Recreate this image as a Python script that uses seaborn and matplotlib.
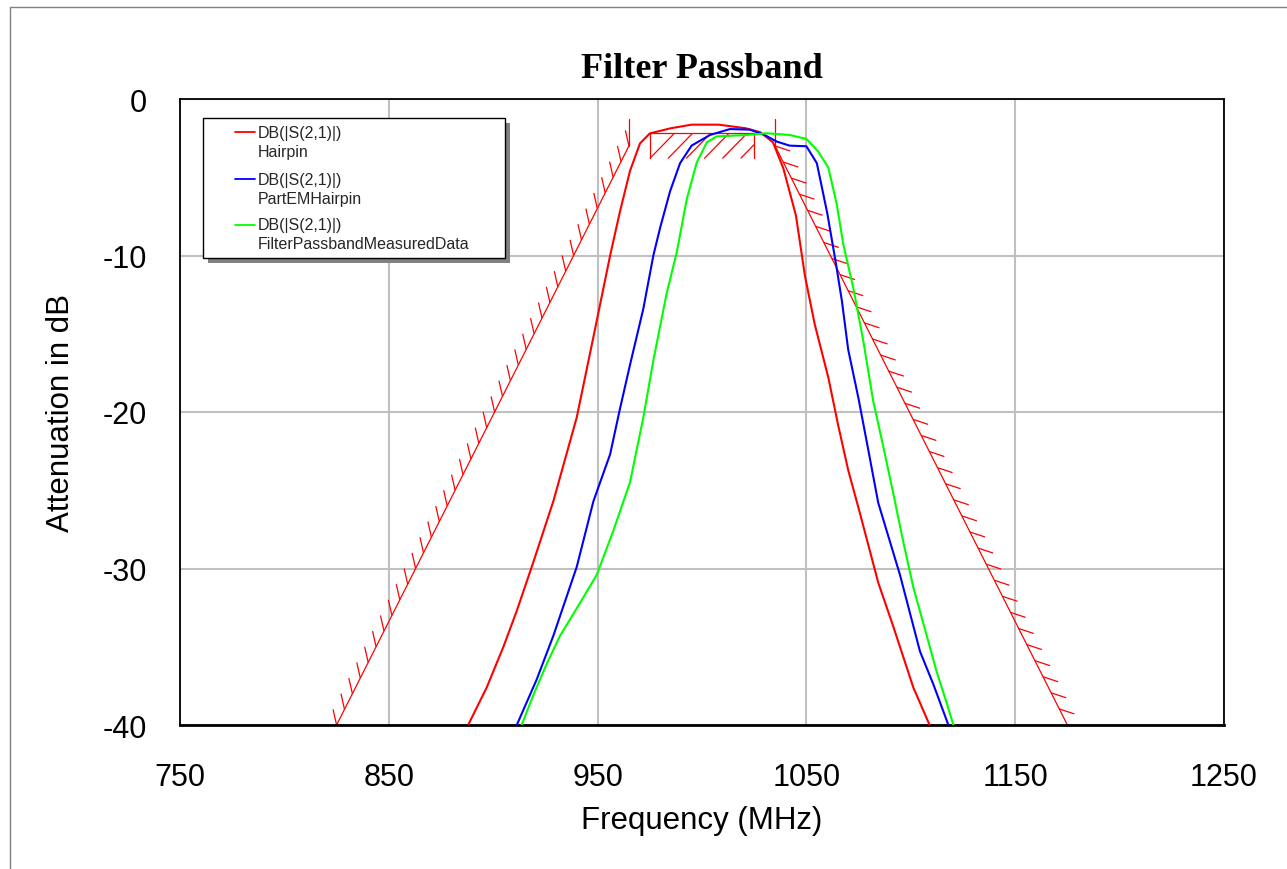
import numpy as np
import pandas as pd
import matplotlib
matplotlib.use("Agg")
import matplotlib.pyplot as plt
from matplotlib.patches import Rectangle
from matplotlib.collections import LineCollection
import seaborn as sns

# traces (MHz, dB)
hairpin_f = [888, 896.9, 904.9, 911.3, 919.2, 928.8, 940, 948, 956, 960.7, 965.5, 970.3, 975,
             985, 995, 1008, 1021, 1028, 1034, 1039, 1045, 1049.3, 1054, 1060.5, 1065.3,
             1070, 1075.7, 1084.4, 1091.6, 1101.2, 1109]
hairpin_db = [-40, -37.6, -35.0, -32.7, -29.6, -25.7, -20.35, -15.2, -10.0, -7.2, -4.6, -2.84, -2.2,
              -1.87, -1.64, -1.64, -1.87, -2.13, -2.77, -4.45, -7.45, -11.3, -14.4, -17.8, -20.9,
              -23.7, -26.5, -30.9, -33.7, -37.6, -40]

partem_f = [911.3, 920.8, 928.8, 940, 948, 956, 960.7, 965.5, 971.9, 976.7, 980, 984.7, 989.5,
            995, 1003.8, 1013.4, 1023, 1030, 1035.8, 1042, 1050, 1055, 1060, 1064, 1067, 1070,
            1074.9, 1078.9, 1084.4, 1094.8, 1104.4, 1110.8, 1118]
partem_db = [-40, -37.1, -34.3, -29.9, -25.7, -22.7, -19.8, -17, -13.4, -10, -8.2, -5.9, -4.1,
             -2.98, -2.3, -1.92, -1.96, -2.3, -2.72, -2.98, -3.02, -4.1, -7.3, -10.4, -12.9, -16,
             -19.1, -21.9, -25.8, -30.4, -35.3, -37.4, -40]

measured_f = [913.6, 919.2, 925.6, 932, 941.6, 949.6, 957.5, 965.5, 971.9, 976.7, 983.1, 987.9,
              992.7, 997.5, 1002.3, 1007, 1021.4, 1031, 1042, 1050, 1055.6, 1060.5, 1064.5,
              1067.7, 1072.5, 1077.3, 1082, 1086.8, 1091.6, 1096.4, 1101.2, 1106, 1112.4,
              1117.2, 1120.4]
measured_db = [-40, -38.1, -36.1, -34.3, -32.2, -30.4, -27.6, -24.5, -20.35, -16.7, -12.4, -9.8,
               -6.4, -4.05, -2.77, -2.39, -2.3, -2.19, -2.3, -2.55, -3.35, -4.38, -6.7,
               -9.3, -12.1, -15.5, -19.3, -22.2, -25.2, -28.3, -31.2, -33.5, -36.6,
               -38.6, -40]

trace_names = ["Hairpin", "PartEMHairpin", "FilterPassbandMeasuredData"]
trace_colors = ["#ff0000", "#0000ff", "#00ff00"]

# spec mask
mask_left_f = [825, 965]
mask_left_db = [-40, -3]
mask_right_f = [1035, 1175]
mask_right_db = [-3, -40]
mask_pass_f = [975, 1025]
mask_pass_db = -2.2
mask_pass_low = -3.8
mask_end_top = -1.3

xticks = [750, 850, 950, 1050, 1150, 1250]
yticks = [0, -10, -20, -30, -40]

df = pd.concat([
    pd.DataFrame({"freq": hairpin_f, "db": hairpin_db, "trace": trace_names[0]}),
    pd.DataFrame({"freq": partem_f, "db": partem_db, "trace": trace_names[1]}),
    pd.DataFrame({"freq": measured_f, "db": measured_db, "trace": trace_names[2]}),
])

sns.set_theme(style="white")
plt.rcParams['font.family'] = ['Liberation Sans', 'DejaVu Sans']

fig = plt.figure(figsize=(12.87, 8.70), dpi=100)
ax = fig.add_axes([180 / 1287, 1 - 726 / 870, 1044 / 1287, 626 / 870])

sns.lineplot(data=df, x="freq", y="db", hue="trace", palette=dict(zip(trace_names, trace_colors)),
             estimator=None, sort=False, lw=1.5, legend=False, ax=ax, zorder=3)

# mask lines
red = "#ff0000"
mk = dict(color=red, lw=0.9, zorder=2)
ax.plot(mask_left_f, mask_left_db, **mk)
ax.plot(mask_right_f, mask_right_db, **mk)
ax.plot(mask_pass_f, [mask_pass_db, mask_pass_db], **mk)
for f in mask_pass_f:
    ax.plot([f, f], [mask_pass_db, mask_pass_low], **mk)
ax.plot([mask_left_f[1]] * 2, [mask_left_db[1], mask_end_top], **mk)
ax.plot([mask_right_f[0]] * 2, [mask_right_db[0], mask_end_top], **mk)

# hatching
segs = []
for t in np.linspace(0, 1, 38):
    f = mask_left_f[0] + t * (mask_left_f[1] - mask_left_f[0])
    d = mask_left_db[0] + t * (mask_left_db[1] - mask_left_db[0])
    segs.append([(f, d), (f - 1.7, d + 1.0)])
for t in np.linspace(0, 1, 37):
    f = mask_right_f[0] + t * (mask_right_f[1] - mask_right_f[0])
    d = mask_right_db[0] + t * (mask_right_db[1] - mask_right_db[0])
    segs.append([(f, d), (f + 7.2, d - 0.32)])
slope = (mask_pass_db - mask_pass_low) / 11.7
for f0 in np.arange(mask_pass_f[0], mask_pass_f[1], 8.7):
    f1 = min(f0 + 11.7, mask_pass_f[1])
    segs.append([(f0, mask_pass_low), (f1, mask_pass_low + slope * (f1 - f0))])
ax.add_collection(LineCollection(segs, colors=red, linewidths=0.9, zorder=2))

ax.set_xlim(750, 1250)
ax.set_ylim(-40, 0)
ax.set_xticks(xticks)
ax.set_xticklabels([str(v) for v in xticks])
ax.set_yticks(yticks)
ax.set_yticklabels([str(v) for v in yticks])
ax.tick_params(length=0, labelsize=22, colors="black")
ax.tick_params(axis="x", pad=27)
ax.tick_params(axis="y", pad=24)
ax.grid(True, color="#c0c0c0", lw=1.5)
ax.set_axisbelow(True)
for s in ax.spines.values():
    s.set_color("black")
    s.set_linewidth(1.3)
ax.spines["bottom"].set_linewidth(2)

ax.set_xlabel("Frequency (MHz)", fontsize=22.5, color="black", labelpad=9)
ax.set_ylabel("Attenuation in dB", fontsize=22.5, color="black", labelpad=19)
ax.set_title("Filter Passband", fontsize=26, fontweight="bold", family="Liberation Serif",
             color="black", pad=16)

# legend box with shadow
lx0, lx1 = 0.0220, 0.3113
ly0, ly1 = 0.746, 0.9696
ax.add_patch(Rectangle((lx0 + 0.0048, ly0 - 0.008), lx1 - lx0, ly1 - ly0, transform=ax.transAxes,
                       facecolor="#808080", edgecolor="none", zorder=5, clip_on=False))
ax.add_patch(Rectangle((lx0, ly0), lx1 - lx0, ly1 - ly0, transform=ax.transAxes,
                       facecolor="white", edgecolor="black", lw=1, zorder=6, clip_on=False))
entry_y = [0.947, 0.872, 0.799]
for name, col, y in zip(trace_names, trace_colors, entry_y):
    ax.plot([0.0527, 0.0718], [y, y], color=col, lw=1.3, transform=ax.transAxes, zorder=7)
    ax.text(0.0747, y, "DB(|S(2,1)|)", fontsize=11.5, va="center", ha="left",
            transform=ax.transAxes, zorder=7)
    ax.text(0.0747, y - 19 / 626, name, fontsize=11.5, va="center", ha="left",
            transform=ax.transAxes, zorder=7)

# outer frame
fig.add_artist(Rectangle((10 / 1287, -0.05), 1.2, 1.05 - 8 / 870, transform=fig.transFigure,
                         facecolor="none", edgecolor="#808080", lw=1))

fig.savefig("out.png", dpi=100)
